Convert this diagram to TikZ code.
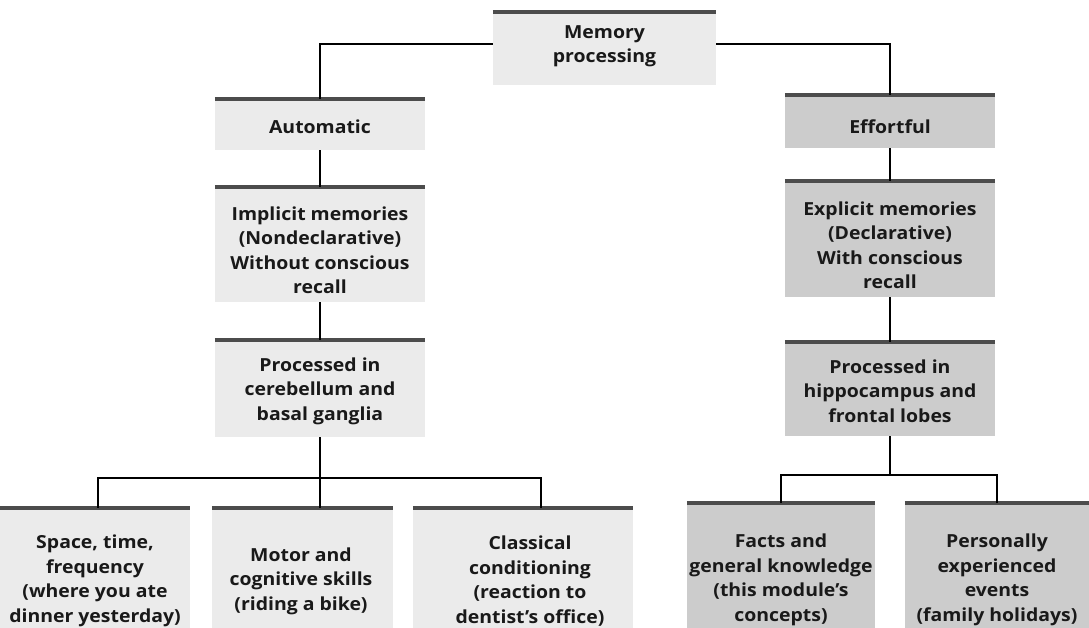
\documentclass[tikz,border=0pt]{standalone}
\usepackage{fontspec}
\setmainfont{Open Sans}[FakeStretch=1.08]
\begin{document}
\begin{tikzpicture}[x=1pt,y=-1pt,
  boxL/.style={fill=black!8,draw=none,inner sep=0pt,minimum width=#1},
  boxL/.default=210pt,
  boxR/.style={fill=black!20,draw=none,inner sep=0pt,minimum width=#1},
  boxR/.default=210pt,
  txt/.style={align=center,inner sep=0pt,font=\fontsize{18}{24.5}\selectfont\bfseries,text=black!90},
  bar/.style={draw=black!70,line width=4pt,line cap=butt},
  conn/.style={draw=black,line width=1.8pt,line cap=butt},
  connR/.style={conn,line width=2.6pt}]
\useasboundingbox (0,0) rectangle (1089,628);
% boxes
\node[boxL=223pt,minimum height=73pt] (mem) at (604.5,48.5) {};
\node[boxL,minimum height=51pt] (auto) at (320,124.5) {};
\node[boxL,minimum height=115pt] (impl) at (320,244.5) {};
\node[boxL,minimum height=97pt] (procL) at (320,388.5) {};
\node[boxL=190pt,minimum height=120pt] (space) at (95,568) {};
\node[boxL=181pt,minimum height=120pt] (motor) at (302.5,568) {};
\node[boxL=220pt,minimum height=120pt] (class) at (523,568) {};
\node[boxR,minimum height=53pt] (eff) at (890,121.5) {};
\node[boxR,minimum height=116pt] (expl) at (890,239) {};
\node[boxR,minimum height=94pt] (procR) at (890,389) {};
\node[boxR=188pt,minimum height=125pt] (facts) at (781,565.5) {};
\node[boxR=184pt,minimum height=125pt] (pers) at (997,565.5) {};
% bars
\foreach \n in {mem,auto,impl,procL,space,motor,class,eff,expl,procR,facts,pers}
  \draw[bar] (\n.north west) -- (\n.north east);
% texts
\node[txt] (tmem) at (604.5,46) {Memory\\processing};
\node[txt] (tauto) at (320,127) {Automatic};
\node[txt] (timpl) at (320,250) {Implicit memories\\(Nondeclarative)\\Without conscious\\recall};
\node[txt] (tprocL) at (320,391) {Processed in\\cerebellum and\\basal ganglia};
\node[txt] (tspace) at (95,581) {Space, time,\\frequency\\(where you ate\\dinner yesterday)};
\node[txt] (tmotor) at (301,581) {Motor and\\cognitive skills\\(riding a bike)};
\node[txt] (tclass) at (530,581) {Classical\\conditioning\\(reaction to\\dentist's office)};
\node[txt] (teff) at (890,127) {Effortful};
\node[txt] (texpl) at (890,245) {Explicit memories\\(Declarative)\\With conscious\\recall};
\node[txt] (tprocR) at (890,391) {Processed in\\hippocampus and\\frontal lobes};
\node[txt] (tfacts) at (781,580) {Facts and\\general knowledge\\(this module's\\concepts)};
\node[txt] (tpers) at (997,580) {Personally\\experienced\\events\\(family holidays)};
% connectors
\coordinate (jL) at (320,478);
\coordinate (jR) at (890,475);
\draw[conn] ([yshift=4.5pt]mem.west) -| (auto.north);
\draw[conn] ([yshift=4.5pt]mem.east) -| (eff.north);
\draw[conn] (auto.south) -- (impl.north);
\draw[conn] (impl.south) -- (procL.north);
\draw[conn] (procL.south) -- (procL.south |- motor.north);
\draw[conn] ([xshift=3pt]space.north) |- (jL) -| ([xshift=18pt]class.north);
\draw[connR] (eff.south) -- (expl.north);
\draw[connR] (expl.south) -- (procR.north);
\draw[connR] (procR.south) -- (jR);
\draw[connR] (facts.north) |- (jR) -| (pers.north);
\end{tikzpicture}
\end{document}
